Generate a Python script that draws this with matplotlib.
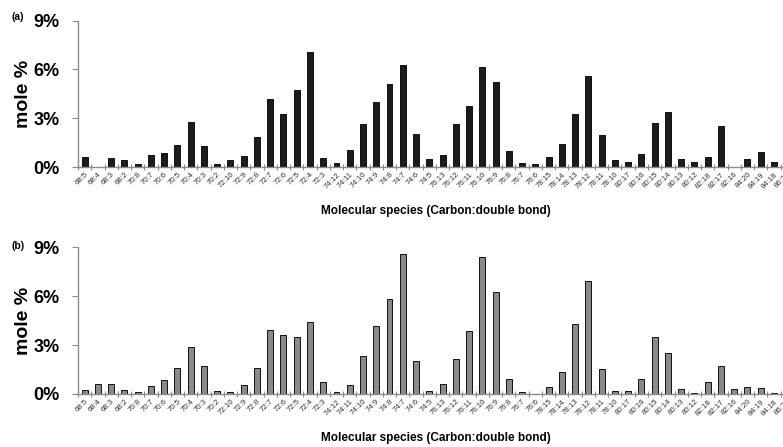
import numpy as np
import matplotlib
matplotlib.use("Agg")
import matplotlib.pyplot as plt

plt.rcParams['font.family'] = ['Liberation Sans', 'DejaVu Sans']

species = ['68:5', '68:4', '68:3', '68:2', '70:8', '70:7', '70:6', '70:5', '70:4', '70:3',
           '70:2', '72:10', '72:9', '72:8', '72:7', '72:6', '72:5', '72:4', '72:3', '74:12',
           '74:11', '74:10', '74:9', '74:8', '74:7', '74:6', '74:5', '76:13', '76:12', '76:11',
           '76:10', '76:9', '76:8', '76:7', '76:6', '78:15', '78:14', '78:13', '78:12', '78:11',
           '78:10', '80:17', '80:16', '80:15', '80:14', '80:13', '80:12', '82:18', '82:17', '82:16',
           '84:20', '84:19', '84:18', '86:22']

mole_a = [0.62, 0.0, 0.58, 0.43, 0.18, 0.76, 0.84, 1.34, 2.79, 1.29,
          0.18, 0.43, 0.68, 1.83, 4.21, 3.29, 4.71, 7.09, 0.58, 0.27,
          1.05, 2.65, 4.00, 5.08, 6.27, 2.03, 0.47, 0.74, 2.63, 3.78,
          6.16, 5.22, 1.00, 0.25, 0.16, 0.62, 1.44, 3.25, 5.57, 1.95,
          0.41, 0.33, 0.80, 2.71, 3.41, 0.51, 0.29, 0.62, 2.53, 0.0,
          0.47, 0.92, 0.29, 0.30]

mole_b = [0.22, 0.59, 0.63, 0.25, 0.10, 0.51, 0.86, 1.57, 2.86, 1.74,
          0.16, 0.12, 0.55, 1.57, 3.93, 3.62, 3.50, 4.42, 0.72, 0.10,
          0.55, 2.33, 4.17, 5.83, 8.57, 2.05, 0.16, 0.59, 2.13, 3.87,
          8.39, 6.26, 0.90, 0.12, 0.03, 0.45, 1.33, 4.27, 6.91, 1.51,
          0.16, 0.16, 0.92, 3.52, 2.49, 0.31, 0.06, 0.72, 1.70, 0.31,
          0.41, 0.37, 0.08, 0.10]

fig = plt.figure(figsize=(7.83, 4.47), dpi=100)

W, H = 783, 447
left = 78 / W
# the original chart is cropped on the right, so the axes run past the edge
width = (54 * 13.256) / W
ax_a = fig.add_axes([left, 1 - 167 / H, width, 146.3 / H])
ax_b = fig.add_axes([left, 1 - 394 / H, width, 146.7 / H])

x = np.arange(len(species))
gray = '#8c8c8c'

for ax, vals, fc, tag, ty in [(ax_a, mole_a, '#1c1c1c', '(a)', 17), (ax_b, mole_b, '#8a8a8a', '(b)', 246)]:
    ax.bar(x, vals, width=0.45, color=fc, edgecolor='#111111', linewidth=0.7)
    ax.set_xlim(-0.5, len(species) - 0.5)
    ax.set_ylim(0, 9)
    ax.set_yticks([0, 3, 6, 9])
    ax.set_yticklabels(['0%', '3%', '6%', '9%'], fontsize=13, fontweight='bold')
    ax.tick_params(axis='y', direction='out', length=4, width=0.8, color=gray, pad=9)
    ax.set_xticks(x)
    ax.set_xticklabels(species, rotation=45, ha='right', rotation_mode='anchor',
                       fontsize=5.6, color='#333333')
    ax.tick_params(axis='x', length=0, pad=3)
    ax.set_xticks(np.arange(-0.5, len(species)), minor=True)
    ax.tick_params(axis='x', which='minor', direction='inout', length=4, width=0.8, color=gray)
    for s in ['top', 'right']:
        ax.spines[s].set_visible(False)
    for s in ['left', 'bottom']:
        ax.spines[s].set_color(gray)
        ax.spines[s].set_linewidth(1.0)
    ax.set_ylabel('mole %', fontsize=14, fontweight='bold', labelpad=1)
    ax.set_xlabel('Molecular species (Carbon:double bond)', fontsize=8.5, fontweight='bold', labelpad=11)
    fig.text(12 / W, 1 - ty / H, tag, fontsize=7.5, fontweight='bold', va='center')

fig.savefig('out.png', dpi=100)
